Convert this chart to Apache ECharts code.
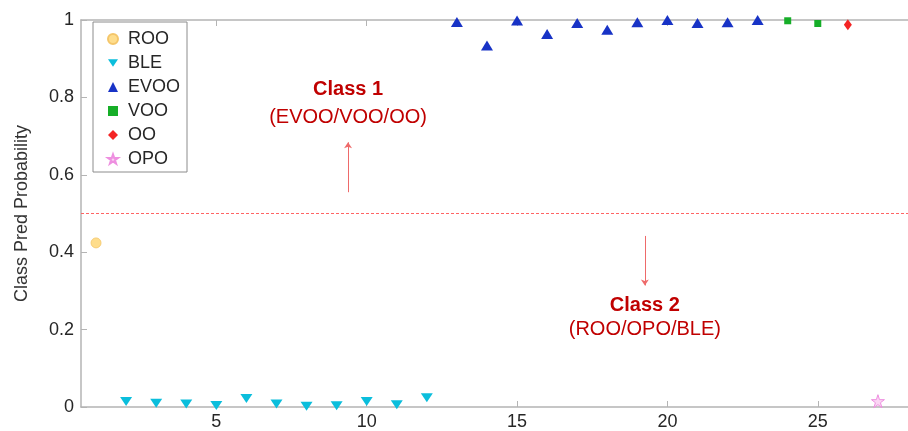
<!DOCTYPE html>
<html>
<head>
<meta charset="utf-8">
<script src="https://cdn.jsdelivr.net/npm/echarts@6/dist/echarts.min.js"></script>
<style>
html,body{margin:0;padding:0;background:#fff;}
#chart{width:908px;height:431px;}
</style>
</head>
<body>
<div id="chart"></div>
<script>
// ---- data ----
const rooX = [1];
const rooY = [0.424];
const bleX = [2, 3, 4, 5, 6, 7, 8, 9, 10, 11, 12];
const bleY = [0.014, 0.010, 0.008, 0.004, 0.022, 0.008, 0.002, 0.003, 0.014, 0.006, 0.024];
const evooX = [13, 14, 15, 16, 17, 18, 19, 20, 21, 22, 23];
const evooY = [0.995, 0.934, 0.999, 0.964, 0.992, 0.975, 0.994, 1.0, 0.992, 0.994, 1.0];
const vooX = [24, 25];
const vooY = [0.998, 0.991];
const ooX = [26];
const ooY = [0.988];
const opoX = [27];
const opoY = [0.015];
const xTicks = [5, 10, 15, 20, 25];
const yTicks = [0, 0.2, 0.4, 0.6, 0.8, 1];
const threshold = 0.5;
const xMin = 0.5, xMax = 28;

const pairs = (xs, ys) => xs.map((x, i) => [x, ys[i]]);
const FONT = '"Liberation Sans", Arial, sans-serif';
const axisGray = '#b4b4b4';
const txt = '#262626';
const darkRed = '#c00000';

const starPath = 'path://M50,0 L61.8,35.1 L98.9,35.1 L68.9,56.9 L80.4,92 L50,70.3 L19.6,92 L31.1,56.9 L1.1,35.1 L38.2,35.1 Z';
const downTri = 'path://M0,0 L12,0 L6,9 Z';

const chart = echarts.init(document.getElementById('chart'), null, {renderer: 'canvas'});

const xCommon = {
  type: 'value', min: xMin, max: xMax,
  axisLine: {show: true, lineStyle: {color: axisGray, width: 1.5}},
  splitLine: {show: false},
};

chart.setOption({
  animation: false,
  backgroundColor: '#fff',
  textStyle: {fontFamily: FONT},
  grid: {left: 81, top: 20, width: 836, height: 389, containLabel: false},
  xAxis: [
    Object.assign({}, xCommon, {
      position: 'bottom',
      axisTick: {show: true, inside: true, length: 6, customValues: xTicks, lineStyle: {color: axisGray}},
      axisLabel: {show: true, customValues: xTicks, color: txt, fontSize: 18, fontFamily: FONT, margin: 6}
    }),
    Object.assign({}, xCommon, {
      position: 'top',
      axisTick: {show: true, inside: true, length: 6, customValues: xTicks, lineStyle: {color: axisGray}},
      axisLabel: {show: false}
    })
  ],
  yAxis: {
    type: 'value', min: 0, max: 1, interval: 0.2,
    name: 'Class Pred Probability', nameLocation: 'middle', nameGap: 50,
    nameTextStyle: {color: '#333', fontSize: 18, fontFamily: FONT},
    axisLine: {show: true, lineStyle: {color: axisGray, width: 1.5}},
    axisTick: {show: true, inside: true, length: 6, lineStyle: {color: axisGray}},
    axisLabel: {color: txt, fontSize: 18, fontFamily: FONT, margin: 7,
      formatter: v => String(v)},
    splitLine: {show: false}
  },
  legend: {
    orient: 'vertical', left: 93, top: 22,
    padding: [8, 7, 4, 14],
    itemWidth: 10, itemHeight: 10, itemGap: 6,
    borderColor: '#8c8c8c', borderWidth: 1, backgroundColor: '#fff',
    textStyle: {color: txt, fontSize: 18, fontFamily: FONT, padding: [0, 0, 0, 5]},
    data: ['ROO', 'BLE', 'EVOO', 'VOO', 'OO', 'OPO']
  },
  series: [
    {
      name: 'threshold', type: 'line', silent: true, z: 2,
      data: [[xMin, threshold], [xMax, threshold]],
      symbol: 'none',
      itemStyle: {color: '#ff6464'},
      lineStyle: {color: '#ff6464', type: [3, 2], width: 1, opacity: 1}
    },
    {
      name: 'ROO', type: 'scatter', data: pairs(rooX, rooY),
      symbol: 'circle', symbolSize: 10,
      itemStyle: {color: '#fedd8c', borderColor: '#f4c66a', borderWidth: 0.8, opacity: 1},
      z: 5
    },
    {
      name: 'BLE', type: 'scatter', data: pairs(bleX, bleY),
      symbol: downTri, symbolSize: [12, 9],
      itemStyle: {color: '#0bbedc', opacity: 1}, z: 5
    },
    {
      name: 'EVOO', type: 'scatter', data: pairs(evooX, evooY),
      symbol: 'triangle', symbolSize: [12, 10],
      itemStyle: {color: '#1833c6', opacity: 1}, z: 5
    },
    {
      name: 'VOO', type: 'scatter', data: pairs(vooX, vooY),
      symbol: 'rect', symbolSize: 7,
      itemStyle: {color: '#16ae28', opacity: 1}, z: 5
    },
    {
      name: 'OO', type: 'scatter', data: pairs(ooX, ooY),
      symbol: 'diamond', symbolSize: [8, 11],
      itemStyle: {color: '#f42424', opacity: 1}, z: 5
    },
    {
      name: 'OPO', type: 'scatter', data: pairs(opoX, opoY),
      symbol: starPath, symbolSize: 13,
      itemStyle: {color: '#fbd6f4', borderColor: '#ee8fe0', borderWidth: 1, opacity: 1}, z: 5
    },
    {
      name: 'annot', type: 'scatter', silent: true, symbolSize: 1,
      itemStyle: {color: 'rgba(0,0,0,0)', opacity: 1},
      data: [
        {value: [9.38, 0.82], label: {formatter: 'Class 1', fontWeight: 'bold'}},
        {value: [9.38, 0.748], label: {formatter: '(EVOO/VOO/OO)', fontWeight: 'normal'}},
        {value: [19.25, 0.263], label: {formatter: 'Class 2', fontWeight: 'bold'}},
        {value: [19.25, 0.2], label: {formatter: '(ROO/OPO/BLE)', fontWeight: 'normal'}}
      ],
      label: {show: true, position: 'inside', color: darkRed, fontSize: 20, fontFamily: FONT},
      markLine: {
        silent: true, symbol: ['none', 'arrow'], symbolSize: 6,
        label: {show: false},
        emphasis: {disabled: true},
        lineStyle: {color: '#ee6a6a', type: 'solid', width: 1},
        data: [
          [{coord: [9.38, 0.555]}, {coord: [9.38, 0.684]}],
          [{coord: [19.25, 0.442]}, {coord: [19.25, 0.314]}]
        ]
      }
    }
  ]
});
</script>
</body>
</html>
